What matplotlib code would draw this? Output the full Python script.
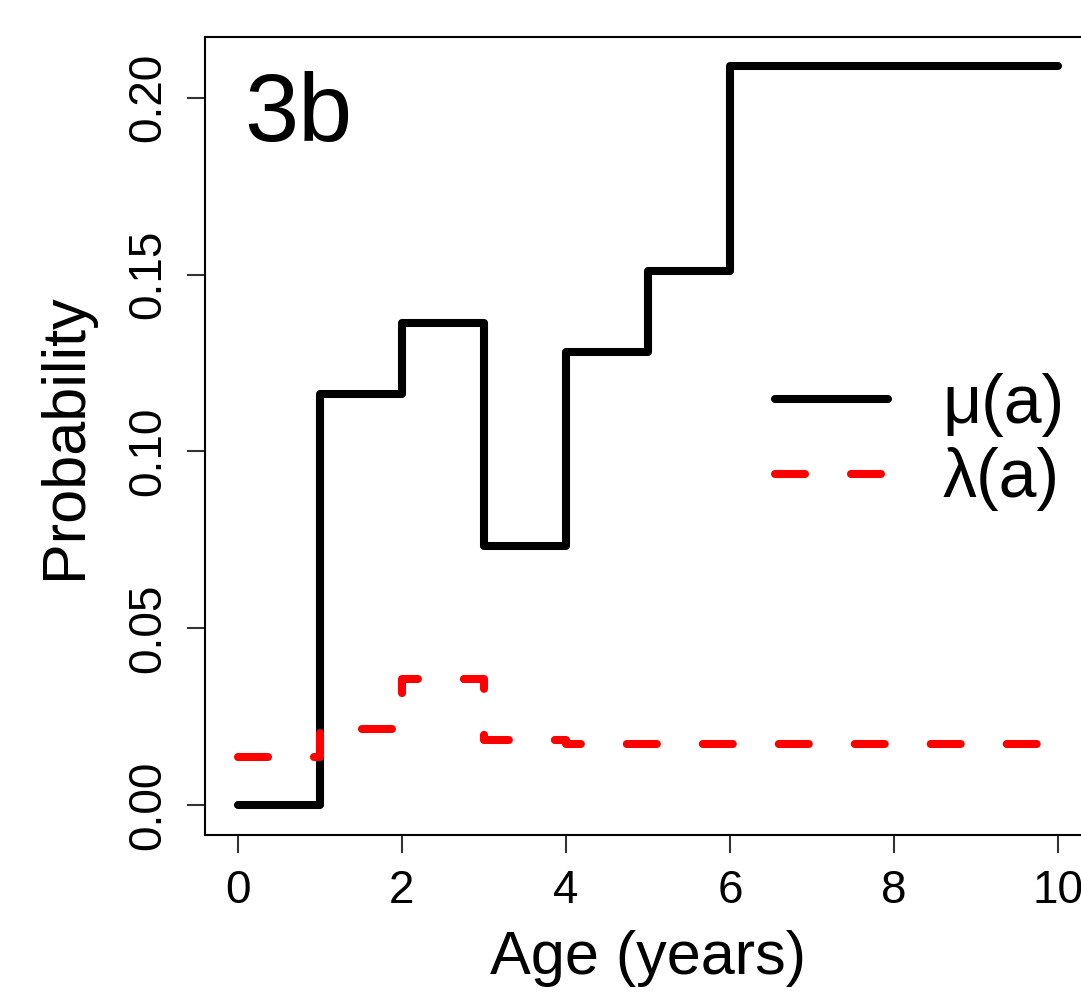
import matplotlib
matplotlib.use("Agg")
import matplotlib.pyplot as plt

plt.rcParams['font.family'] = ['Liberation Sans', 'DejaVu Sans']

# ─── Data ────────────────────────────────────────────────────────────────────
age = [0, 1, 2, 3, 4, 5, 6, 7, 8, 9, 10]
mu = [0.0, 0.1163, 0.1362, 0.0733, 0.1282, 0.1509, 0.2089, 0.2089, 0.2089, 0.2089, 0.2089]
lam = [0.0136, 0.0216, 0.0356, 0.0184, 0.0173, 0.0173, 0.0173, 0.0173, 0.0173, 0.0173, 0.0173]
xticks = [0, 2, 4, 6, 8, 10]
yticks = [0.00, 0.05, 0.10, 0.15, 0.20]

# ─── Plot ────────────────────────────────────────────────────────────────────
fig = plt.figure(figsize=(10.81, 10.0), dpi=100)
ax = fig.add_axes([0.1896, 0.1655, 0.8196, 0.7975])

lw = 5.8
ax.plot(age, mu, drawstyle='steps-post', color='black', lw=lw,
        solid_capstyle='round', solid_joinstyle='round', label='μ(a)')
ax.plot(age, lam, drawstyle='steps-post', color='#ff0000', lw=lw,
        dash_capstyle='round', dash_joinstyle='round',
        dashes=(21.6 / lw, 33.1 / lw), label='λ(a)')

ax.set_xlim(-0.4, 10.4)
ax.set_ylim(-0.00836, 0.2172)
ax.set_xticks(xticks)
ax.set_xticklabels([str(t) for t in xticks])
ax.set_yticks(yticks)
ax.set_yticklabels([f"{t:.2f}" for t in yticks], rotation=90, va='center')

ax.tick_params(axis='both', length=13, width=1.5, color='#333333',
               labelsize=33, pad=12)
for s in ax.spines.values():
    s.set_linewidth(1.5)

ax.set_xlabel('Age (years)', fontsize=44, labelpad=12)
ax.set_ylabel('Probability', fontsize=44, labelpad=23)

# panel tag
ax.text(0.044, 0.87, '3b', transform=ax.transAxes, fontsize=70)

leg = ax.legend(loc='center left', bbox_to_anchor=(775 / 1081, 1 - 442 / 1000),
                bbox_transform=fig.transFigure, frameon=False, fontsize=49,
                handlelength=1.66, handletextpad=0.8, labelspacing=0.16,
                borderpad=0, borderaxespad=0)

fig.savefig('out.png', dpi=100)
